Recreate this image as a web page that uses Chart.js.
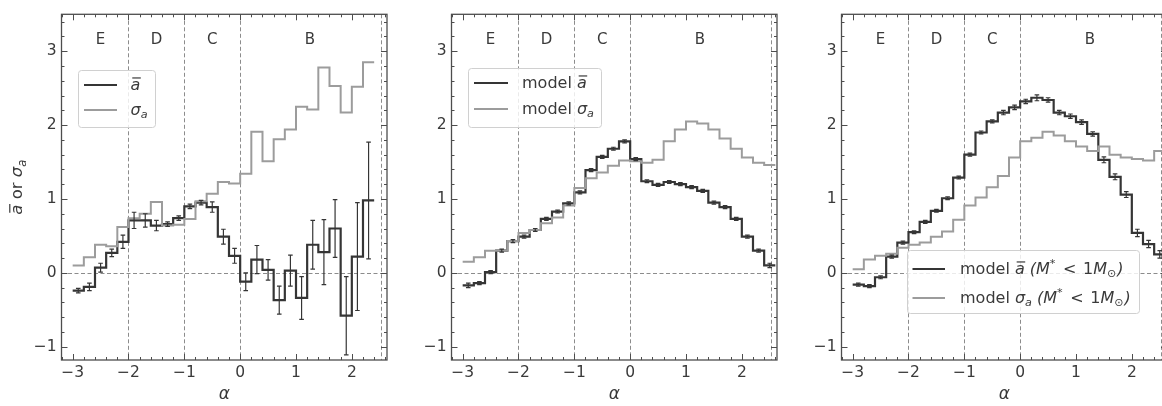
<!DOCTYPE html>
<html>
<head>
<meta charset="utf-8">
<title>Mean and dispersion of a versus alpha</title>
<script src="https://cdn.jsdelivr.net/npm/chart.js@4.4.1/dist/chart.umd.min.js"></script>
<style>
  html, body { margin: 0; padding: 0; background: #ffffff; }
  body { position: relative; width: 1162px; height: 406px; overflow: hidden; }
  .panel { position: absolute; top: 0; width: 390px; height: 406px; }
  .panel canvas { display: block; }
</style>
</head>
<body>
<div class="panel" style="left:0px"><canvas id="obs" width="390" height="406"></canvas></div>
<div class="panel" style="left:390px"><canvas id="model" width="390" height="406"></canvas></div>
<div class="panel" style="left:780px"><canvas id="lowmass" width="390" height="406"></canvas></div>
<script>
// ---- data -------------------------------------------------------------
// histogram bin edges in alpha (width 0.2)
const binEdges = [-3.0, -2.8, -2.6, -2.4, -2.2, -2.0, -1.8, -1.6, -1.4, -1.2, -1.0,
                  -0.8, -0.6, -0.4, -0.2, 0.0, 0.2, 0.4, 0.6, 0.8, 1.0, 1.2, 1.4,
                  1.6, 1.8, 2.0, 2.2, 2.4, 2.6];

// observed sample: mean a, its error, and dispersion sigma_a
const obsMean = [-0.24, -0.19, 0.07, 0.27, 0.42, 0.71, 0.71, 0.64, 0.66, 0.74, 0.90, 0.95,
                 0.89, 0.49, 0.23, -0.12, 0.18, 0.04, -0.37, 0.03, -0.34, 0.38, 0.28, 0.60,
                 -0.58, 0.22, 0.98];
const obsMeanErr = [0.03, 0.05, 0.06, 0.05, 0.09, 0.11, 0.09, 0.07, 0.03, 0.03, 0.03, 0.03,
                    0.07, 0.10, 0.10, 0.12, 0.19, 0.14, 0.19, 0.21, 0.29, 0.33, 0.44, 0.39,
                    0.53, 0.73, 0.79];
const obsSigma = [0.10, 0.21, 0.38, 0.36, 0.62, 0.74, 0.80, 0.96, 0.64, 0.65, 0.73, 0.97,
                  1.07, 1.23, 1.21, 1.34, 1.91, 1.51, 1.81, 1.94, 2.25, 2.21, 2.78, 2.53,
                  2.17, 2.52, 2.85];

// model, all stellar masses
const modelMean = [-0.17, -0.14, 0.01, 0.30, 0.43, 0.49, 0.58, 0.73, 0.83, 0.94, 1.09, 1.39,
                   1.57, 1.68, 1.78, 1.54, 1.24, 1.19, 1.23, 1.20, 1.16, 1.11, 0.95, 0.89,
                   0.73, 0.49, 0.30, 0.10];
const modelMeanErr = [0.03, 0.02, 0.02, 0.02, 0.02, 0.02, 0.02, 0.02, 0.02, 0.02, 0.02, 0.02,
                      0.02, 0.02, 0.02, 0.02, 0.02, 0.02, 0.02, 0.02, 0.02, 0.02, 0.02, 0.02,
                      0.02, 0.02, 0.02, 0.03];
const modelSigma = [0.15, 0.21, 0.30, 0.30, 0.43, 0.54, 0.58, 0.67, 0.75, 0.91, 1.15, 1.28,
                    1.36, 1.45, 1.52, 1.51, 1.49, 1.53, 1.78, 1.94, 2.05, 2.02, 1.94, 1.82,
                    1.68, 1.56, 1.49, 1.46];

// model, stars below one solar mass
const lowMassMean = [-0.16, -0.18, -0.06, 0.22, 0.41, 0.55, 0.69, 0.84, 1.01, 1.29, 1.60, 1.90,
                     2.05, 2.17, 2.24, 2.32, 2.37, 2.34, 2.17, 2.12, 2.04, 1.88, 1.53, 1.30,
                     1.06, 0.54, 0.39, 0.25];
const lowMassMeanErr = [0.02, 0.02, 0.02, 0.02, 0.02, 0.02, 0.02, 0.02, 0.02, 0.02, 0.02, 0.02,
                        0.02, 0.03, 0.03, 0.03, 0.04, 0.03, 0.03, 0.03, 0.03, 0.03, 0.04, 0.04,
                        0.04, 0.05, 0.05, 0.05];
const lowMassSigma = [0.05, 0.18, 0.23, 0.26, 0.34, 0.38, 0.41, 0.49, 0.56, 0.72, 0.91, 1.02,
                      1.16, 1.31, 1.56, 1.78, 1.83, 1.91, 1.86, 1.78, 1.71, 1.65, 1.71, 1.60,
                      1.56, 1.54, 1.52, 1.65];

// regions along alpha and their dividing lines
const regionNames = ['E', 'D', 'C', 'B'];
const regionCenters = [-2.5, -1.5, -0.5, 1.25];
const regionBounds = [-2, -1, 0, 2.53];

// axis ticks
const xTickValues = [-3, -2, -1, 0, 1, 2];
const yTickValues = [-1, 0, 1, 2, 3];

// ---- styling ------------------------------------------------------------
const FONT = '"DejaVu Sans", "Liberation Sans", sans-serif';
const TEXT = '#3a3a3a';
const FRAME = '#4d4d4d';
const DARK = '#353535';
const LIGHT = '#9c9c9c';
const DASH = '#8c8c8c';
const X_MIN = -3.2, X_MAX = 2.63;
const Y_MIN = -1.18, Y_MAX = 3.5;
const LEGEND_SIZE = 16;

// ---- helpers --------------------------------------------------------------
function stairs(values) {
  const pts = values.map((v, i) => ({ x: binEdges[i], y: v }));
  pts.push({ x: binEdges[values.length], y: values[values.length - 1] });
  return pts;
}

function fmtTick(v) {
  return (v < 0 ? '\u2212' : '') + Math.abs(v);
}

// draws a run list with italic / sub / sup / overline parts; returns width
function drawRich(ctx, runs, x, baseline, size, color, measureOnly) {
  let cx = x;
  ctx.save();
  ctx.fillStyle = color;
  ctx.strokeStyle = color;
  ctx.textAlign = 'left';
  ctx.textBaseline = 'alphabetic';
  for (const r of runs) {
    const small = r.sub || r.sup;
    const s = small ? size * 0.7 : size;
    ctx.font = (r.it ? 'italic ' : '') + s + 'px ' + FONT;
    const w = ctx.measureText(r.t).width;
    const dy = r.sub ? size * 0.22 : (r.sup ? -size * 0.42 : 0);
    cx += (r.padBefore || 0);
    if (!measureOnly) {
      ctx.fillText(r.t, cx, baseline + dy);
      if (r.over) {
        ctx.lineWidth = 1.2;
        const oy = baseline - size * 0.74;
        ctx.beginPath();
        ctx.moveTo(cx + w * 0.18, oy);
        ctx.lineTo(cx + w * 1.05, oy);
        ctx.stroke();
      }
    }
    cx += w + (r.pad || 0);
  }
  ctx.restore();
  return cx - x;
}

// ---- panel decorations plugin -----------------------------------------------
const panelDecor = {
  id: 'panelDecor',
  beforeDatasetsDraw(chart, args, opts) {
    const { ctx, chartArea: a, scales: { x, y } } = chart;
    ctx.save();
    ctx.beginPath();
    ctx.rect(a.left, a.top, a.right - a.left, a.bottom - a.top);
    ctx.clip();
    ctx.strokeStyle = DASH;
    ctx.lineWidth = 1;
    ctx.setLineDash([4, 2.5]);
    for (const b of regionBounds) {
      const px = Math.round(x.getPixelForValue(b)) + 0.5;
      ctx.beginPath();
      ctx.moveTo(px, a.top);
      ctx.lineTo(px, a.bottom);
      ctx.stroke();
    }
    const py = Math.round(y.getPixelForValue(0)) + 0.5;
    ctx.beginPath();
    ctx.moveTo(a.left, py);
    ctx.lineTo(a.right, py);
    ctx.stroke();
    ctx.restore();
  },
  afterDatasetsDraw(chart, args, opts) {
    const { ctx, chartArea: a, scales: { x, y } } = chart;

    // error bars on the mean series
    chart.data.datasets.forEach((ds) => {
      if (!ds.errors) return;
      ctx.save();
      ctx.beginPath();
      ctx.rect(a.left, a.top, a.right - a.left, a.bottom - a.top);
      ctx.clip();
      ctx.strokeStyle = DARK;
      ctx.lineWidth = 1.2;
      ds.errors.forEach((e, i) => {
        const c = (binEdges[i] + binEdges[i + 1]) / 2;
        const v = ds.values[i];
        const px = x.getPixelForValue(c);
        const top = y.getPixelForValue(v + e);
        const bot = y.getPixelForValue(v - e);
        ctx.beginPath();
        ctx.moveTo(px, top); ctx.lineTo(px, bot);
        ctx.moveTo(px - 2.3, top); ctx.lineTo(px + 2.3, top);
        ctx.moveTo(px - 2.3, bot); ctx.lineTo(px + 2.3, bot);
        ctx.stroke();
      });
      ctx.restore();
    });

    // frame with inward major and minor ticks on all sides
    ctx.save();
    ctx.strokeStyle = FRAME;
    ctx.lineWidth = 1.3;
    ctx.strokeRect(a.left, a.top, a.right - a.left, a.bottom - a.top);
    ctx.lineWidth = 1;
    ctx.beginPath();
    for (let k = Math.ceil(X_MIN * 5); k <= Math.floor(X_MAX * 5); k++) {
      const len = k % 5 === 0 ? 6 : 3;
      const px = Math.round(x.getPixelForValue(k / 5)) + 0.5;
      ctx.moveTo(px, a.bottom); ctx.lineTo(px, a.bottom - len);
      ctx.moveTo(px, a.top); ctx.lineTo(px, a.top + len);
    }
    for (let k = Math.ceil(Y_MIN * 5); k <= Math.floor(Y_MAX * 5); k++) {
      const len = k % 5 === 0 ? 6 : 3;
      const py = Math.round(y.getPixelForValue(k / 5)) + 0.5;
      ctx.moveTo(a.left, py); ctx.lineTo(a.left + len, py);
      ctx.moveTo(a.right, py); ctx.lineTo(a.right - len, py);
    }
    ctx.stroke();
    ctx.restore();

    // region letters
    ctx.save();
    ctx.fillStyle = TEXT;
    ctx.font = '15px ' + FONT;
    ctx.textAlign = 'center';
    ctx.textBaseline = 'middle';
    regionNames.forEach((n, i) => {
      ctx.fillText(n, x.getPixelForValue(regionCenters[i]), y.getPixelForValue(opts.regionLabelY));
    });
    ctx.restore();

    // legend box
    const lg = opts.legend;
    ctx.save();
    ctx.fillStyle = 'rgba(255,255,255,0.82)';
    ctx.strokeStyle = '#d0d0d0';
    ctx.lineWidth = 1;
    ctx.beginPath();
    ctx.roundRect(lg.x + 0.5, lg.y + 0.5, lg.w, lg.h, 3);
    ctx.fill();
    ctx.stroke();
    ctx.restore();
    const order = [1, 0];
    lg.rows.forEach((rowY, r) => {
      const ds = chart.data.datasets[order[r]];
      const ly = lg.y + rowY;
      ctx.save();
      ctx.strokeStyle = ds.borderColor;
      ctx.lineWidth = ds.borderWidth;
      ctx.beginPath();
      ctx.moveTo(lg.x + lg.sample[0], ly);
      ctx.lineTo(lg.x + lg.sample[1], ly);
      ctx.stroke();
      ctx.restore();
      drawRich(ctx, ds.richLabel, lg.x + lg.textX, ly + 4.8, LEGEND_SIZE, TEXT);
    });

    // y-axis title (first panel only)
    if (opts.yTitle) {
      const runs = opts.yTitle;
      const cy = (a.top + a.bottom) / 2;
      const w = drawRich(ctx, runs, 0, 0, 16.5, TEXT, true);
      ctx.save();
      ctx.translate(opts.yTitleX, cy);
      ctx.rotate(-Math.PI / 2);
      drawRich(ctx, runs, -w / 2, 5, 16.5, TEXT);
      ctx.restore();
    }
  }
};

// ---- legend labels ------------------------------------------------------------
const A_BAR = { t: 'a', it: true, over: true };
const SIGMA_A = [{ t: '\u03c3', it: true }, { t: 'a', it: true, sub: true }];
const MASS_CUT = [{ t: ' (', it: true }, { t: 'M', it: true }, { t: '*', sup: true, pad: 1 },
                  { t: ' < ', padBefore: 1.5, pad: 1.5 }, { t: '1' }, { t: 'M', it: true },
                  { t: '\u2299', sub: true, pad: 1 }, { t: ')', it: true }];

// ---- chart factory --------------------------------------------------------------
function makePanel(id, spec) {
  return new Chart(document.getElementById(id), {
    type: 'line',
    data: {
      datasets: [
        {
          label: spec.sigmaText,
          richLabel: spec.sigmaRich,
          data: stairs(spec.sigma),
          borderColor: LIGHT,
          borderWidth: 2,
          stepped: 'before',
          pointRadius: 0,
          fill: false,
          borderJoinStyle: 'miter'
        },
        {
          label: spec.meanText,
          richLabel: spec.meanRich,
          data: stairs(spec.mean),
          values: spec.mean,
          errors: spec.meanErr,
          borderColor: DARK,
          borderWidth: 2.2,
          stepped: 'before',
          pointRadius: 0,
          fill: false,
          borderJoinStyle: 'miter'
        }
      ]
    },
    options: {
      responsive: false,
      animation: false,
      devicePixelRatio: 1,
      events: [],
      layout: { padding: { left: 0, right: 3, top: 1.4, bottom: 0 } },
      plugins: {
        legend: { display: false },
        tooltip: { enabled: false },
        panelDecor: {
          legend: spec.legend,
          regionLabelY: 3.15,
          yTitle: spec.yTitle || null,
          yTitleX: 17
        }
      },
      scales: {
        x: {
          type: 'linear',
          min: X_MIN,
          max: X_MAX,
          grid: { display: false, drawTicks: false },
          border: { display: false },
          afterBuildTicks: (s) => { s.ticks = xTickValues.map((v) => ({ value: v })); },
          afterFit: (s) => { s.height = 46; },
          ticks: {
            autoSkip: false, maxRotation: 0, padding: 4, color: TEXT,
            font: { family: FONT, size: 15.5 }, callback: fmtTick
          },
          title: {
            display: true, text: '\u03b1', color: TEXT,
            font: { family: FONT, size: 17, style: 'italic' },
            padding: { top: 0, bottom: 1 }
          }
        },
        y: {
          type: 'linear',
          min: Y_MIN,
          max: Y_MAX,
          grid: { display: false, drawTicks: false },
          border: { display: false },
          afterBuildTicks: (s) => { s.ticks = yTickValues.map((v) => ({ value: v })); },
          afterFit: (s) => { s.width = 61.5; },
          ticks: {
            autoSkip: false, padding: 5, color: TEXT,
            font: { family: FONT, size: 15.5 }, callback: fmtTick
          }
        }
      }
    },
    plugins: [panelDecor]
  });
}

makePanel('obs', {
  mean: obsMean, meanErr: obsMeanErr, sigma: obsSigma,
  meanText: 'a\u0305', sigmaText: '\u03c3a',
  meanRich: [A_BAR], sigmaRich: SIGMA_A,
  yTitle: [A_BAR, { t: ' or ' }, ...SIGMA_A],
  legend: { x: 78, y: 70, w: 77, h: 57, rows: [15, 40], sample: [6, 39], textX: 52.5 }
});

makePanel('model', {
  mean: modelMean, meanErr: modelMeanErr, sigma: modelSigma,
  meanText: 'model a\u0305', sigmaText: 'model \u03c3a',
  meanRich: [{ t: 'model ' }, A_BAR], sigmaRich: [{ t: 'model ' }, ...SIGMA_A],
  legend: { x: 78, y: 68, w: 133, h: 59, rows: [15, 41], sample: [6, 40], textX: 54 }
});

makePanel('lowmass', {
  mean: lowMassMean, meanErr: lowMassMeanErr, sigma: lowMassSigma,
  meanText: 'model a\u0305 (M* < 1M\u2299)', sigmaText: 'model \u03c3a (M* < 1M\u2299)',
  meanRich: [{ t: 'model ' }, A_BAR, ...MASS_CUT],
  sigmaRich: [{ t: 'model ' }, ...SIGMA_A, ...MASS_CUT],
  legend: { x: 127, y: 250, w: 232, h: 63, rows: [19, 48], sample: [5.5, 38], textX: 53 }
});
</script>
</body>
</html>
